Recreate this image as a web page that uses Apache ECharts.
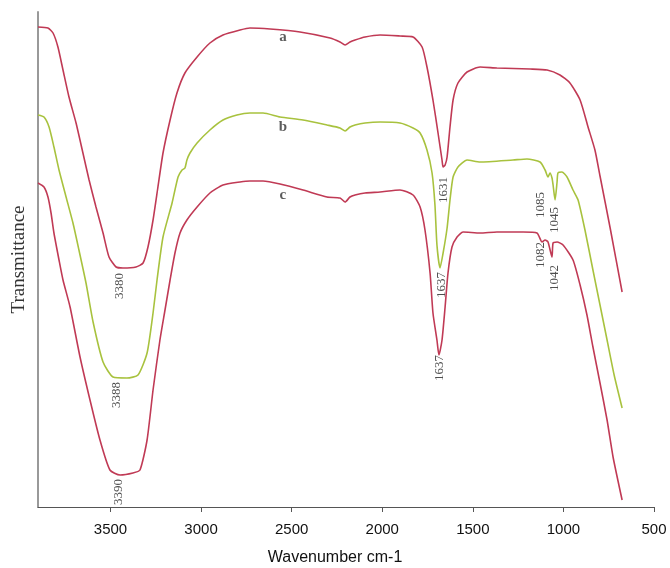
<!DOCTYPE html>
<html>
<head>
<meta charset="utf-8">
<script src="https://cdn.jsdelivr.net/npm/echarts/dist/echarts.min.js"></script>
<style>
	html, body { margin: 0; padding: 0; background: #fff; }
	#chart { width: 670px; height: 568px; }
</style>
</head>
<body>
<div id="chart"></div>
<script>
	// wavenumber (cm-1), transmittance (arbitrary units, offset spectra)
	const specA = [
		[3900, 480], [3845, 479], [3817, 474], [3790, 460], [3762, 437], [3729, 410], [3690, 384],
		[3652, 354], [3618, 327], [3580, 300], [3541, 274], [3508, 250], [3469, 240], [3431, 239],
		[3359, 240], [3320, 244], [3293, 260], [3265, 287], [3238, 320], [3210, 354], [3171, 387],
		[3133, 414], [3089, 434], [3022, 450], [2951, 464], [2879, 472], [2785, 477], [2730, 479],
		[2619, 478], [2454, 475], [2288, 469], [2233, 465], [2205, 462], [2178, 465], [2150, 467],
		[2095, 470], [2012, 472], [1902, 471], [1830, 470], [1780, 460], [1753, 440], [1720, 407],
		[1692, 374], [1670, 347], [1664, 340], [1653, 342], [1642, 350], [1626, 380], [1609, 407],
		[1582, 424], [1532, 435], [1460, 440], [1367, 439], [1184, 438], [1090, 437], [1019, 432],
		[964, 424], [908, 407], [864, 380], [826, 357], [798, 331], [742, 279], [676, 215]
	];
	const specB = [
		[3900, 392], [3867, 390], [3839, 380], [3812, 360], [3784, 337], [3745, 310], [3707, 284],
		[3674, 257], [3635, 224], [3596, 185], [3541, 145], [3486, 130], [3409, 129], [3348, 132],
		[3298, 154], [3265, 194], [3243, 227], [3210, 270], [3160, 304], [3127, 330], [3105, 337],
		[3089, 339], [3078, 347], [3061, 354], [3022, 364], [2951, 377], [2879, 387], [2802, 392],
		[2730, 394], [2658, 394], [2564, 390], [2437, 387], [2305, 382], [2233, 379], [2205, 376],
		[2178, 380], [2150, 382], [2095, 384], [2012, 385], [1902, 384], [1830, 379], [1791, 374],
		[1753, 357], [1725, 334], [1709, 302], [1698, 262], [1681, 239], [1664, 254], [1642, 279],
		[1626, 307], [1609, 330], [1582, 340], [1532, 347], [1460, 345], [1278, 347], [1201, 348],
		[1129, 345], [1101, 337], [1085, 330], [1074, 334], [1063, 329], [1057, 322], [1046, 307],
		[1035, 325], [1030, 334], [1008, 335], [980, 330], [947, 317], [919, 307], [881, 277],
		[837, 237], [798, 202], [759, 167], [720, 132], [676, 99]
	];
	const specC = [
		[3900, 324], [3867, 320], [3845, 310], [3828, 294], [3812, 274], [3784, 247], [3762, 227],
		[3723, 200], [3668, 150], [3613, 107], [3558, 67], [3503, 37], [3447, 32], [3376, 34],
		[3337, 37], [3298, 67], [3265, 117], [3227, 167], [3199, 197], [3171, 227], [3144, 254],
		[3116, 274], [3078, 287], [3022, 300], [2951, 314], [2879, 322], [2785, 325], [2730, 326],
		[2658, 326], [2564, 323], [2437, 317], [2305, 310], [2233, 309], [2205, 305], [2178, 310],
		[2150, 312], [2095, 314], [2012, 315], [1902, 317], [1830, 312], [1791, 300], [1764, 277],
		[1736, 234], [1720, 194], [1698, 167], [1687, 152], [1670, 167], [1653, 200], [1637, 234],
		[1615, 260], [1587, 270], [1554, 275], [1460, 274], [1367, 275], [1223, 275], [1146, 274],
		[1118, 265], [1101, 267], [1085, 265], [1063, 250], [1057, 264], [1035, 265], [1002, 262],
		[947, 247], [908, 222], [870, 192], [837, 160], [798, 124], [759, 87], [726, 50], [676, 7]
	];

	const xTicks = [500, 1000, 1500, 2000, 2500, 3000, 3500];

	// peak annotations: text and anchor in data space
	const peakText = ['3380', '3388', '3390', '1631', '1637', '1637', '1085', '1045', '1082', '1042'];
	const peakAt = [
		[3447, 221], [3464, 112], [3458, 15], [1664, 317], [1675, 222],
		[1681, 139], [1124, 302], [1046, 287], [1124, 252], [1046, 229]
	];
	const curveText = ['a', 'b', 'c'];
	const curveAt = [[2548, 470], [2548, 380], [2548, 312]];

	const red = '#c03a55';
	const green = '#a8c23e';

	function lineSeries(data, color) {
		return {
			type: 'line',
			data: data,
			showSymbol: false,
			smooth: 0.2,
			silent: true,
			lineStyle: { color: color, width: 1.6 }
		};
	}

	function textSeries(names, coords, label) {
		return {
			type: 'scatter',
			symbolSize: 0,
			silent: true,
			data: names.map((t, i) => ({ name: t, value: coords[i] })),
			label: Object.assign({
				show: true,
				position: 'inside',
				formatter: '{b}',
				fontFamily: 'Liberation Serif, serif',
				color: '#222'
			}, label)
		};
	}

	let option = {
		animation: false,
		backgroundColor: '#fff',
		grid: { left: 38, right: 16, top: 12, bottom: 61, outerBoundsMode: 'none' },
		xAxis: {
			type: 'value',
			inverse: true,
			min: 500,
			max: 3900,
			interval: 500,
			name: 'Wavenumber cm-1',
			nameLocation: 'middle',
			nameGap: 43,
			nameTextStyle: {
				fontFamily: 'Liberation Sans, Arial',
				fontSize: 16,
				color: '#111',
				padding: [0, 22, 0, 0]
			},
			axisLine: { show: true, onZero: false, lineStyle: { color: '#555', width: 1 } },
			axisTick: { show: true, length: 5, customValues: xTicks, lineStyle: { color: '#555' } },
			axisLabel: {
				customValues: xTicks,
				formatter: v => String(v),
				margin: 15,
				fontFamily: 'Liberation Sans, Arial',
				fontSize: 15,
				color: '#111'
			},
			splitLine: { show: false }
		},
		yAxis: {
			type: 'value',
			min: 0,
			max: 495,
			name: 'Transmittance',
			nameLocation: 'middle',
			nameGap: 9,
			nameTextStyle: { fontFamily: 'Liberation Serif, serif', fontSize: 19, color: '#333' },
			axisLine: { show: true, lineStyle: { color: '#999', width: 2 } },
			axisTick: { show: false },
			axisLabel: { show: false },
			splitLine: { show: false }
		},
		series: [
			lineSeries(specA, red),
			lineSeries(specB, green),
			lineSeries(specC, red),
			textSeries(peakText, peakAt, { rotate: 90, fontSize: 13 }),
			textSeries(curveText, curveAt, { fontSize: 15, fontWeight: 'bold', color: '#333' })
		]
	};

	let chart = echarts.init(document.getElementById('chart'));
	chart.setOption(option);
</script>
</body>
</html>
